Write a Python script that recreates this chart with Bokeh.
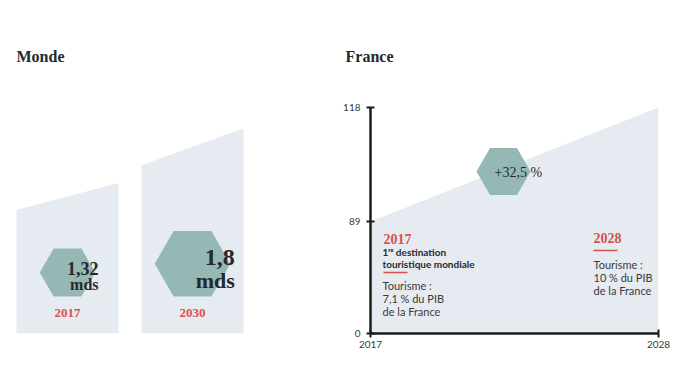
from bokeh.plotting import figure
from bokeh.layouts import row
from bokeh.models import Range1d, FixedTicker
from bokeh.core.properties import value
from bokeh.embed import file_html
from bokeh.resources import INLINE

# ---------------- data ----------------
monde_years = ["2017", "2030"]
monde_values = [1.32, 1.8]            # milliards de touristes internationaux
monde_labels = ["1,32", "1,8"]
monde_unit = "mds"

france_years = [2017, 2028]
france_values = [89, 118]             # millions de touristes
france_growth = "+32,5 %"
france_note_2017 = ["1ʳᵉ destination", "touristique mondiale"]
france_gdp_2017 = ["Tourisme :", "7,1 % du PIB", "de la France"]
france_gdp_2028 = ["Tourisme :", "10 % du PIB", "de la France"]

# ---------------- styles ----------------
BAR = "#e6ebf1"
HEX = "#95b8b5"
RED = "#d8524c"
INK = "#25292c"
GREY = "#3a3a3a"
SERIF = "Liberation Serif"
SANS = "Lato"

H = 368
BT, BB = 99, 35            # shared top / bottom borders (row aligns frames)
FH = H - BT - BB           # frame height


def style_title(p, text, offset):
    p.title.text = text
    p.title.align = "left"
    p.title.offset = offset
    p.title.standoff = 70
    p.title.text_font = SERIF
    p.title.text_font_style = "bold"
    p.title.text_font_size = "16px"
    p.title.text_color = INK


# ================= Monde =================
W1 = 335
PX1 = 125.0      # px per bar slot
PY1 = 114.0      # px per milliard
x0 = -67 / PX1
p1 = figure(width=W1, height=H, x_range=Range1d(x0, x0 + W1 / PX1),
            y_range=Range1d(0, FH / PY1), output_backend="svg",
            toolbar_location=None, min_border_left=0, min_border_right=0,
            min_border_top=BT, min_border_bottom=BB)
p1.axis.visible = False
p1.grid.visible = False
p1.outline_line_color = None
style_title(p1, "Monde", 16)

idx = list(range(len(monde_values)))
half = 0.408
slope = 0.82
xs = [[i - half, i + half, i + half, i - half] for i in idx]
ys = [[0, 0, v, v * slope] for v in monde_values]
p1.patches(xs, ys, fill_color=BAR, line_color=None)

sizes = [v * 42 for v in monde_values]
hy = [(37 + s * 0.866 / 2) / PY1 for s in sizes]
p1.scatter(x=idx, y=hy, size=sizes, marker="hex", fill_color=HEX, line_color=None)

p1.text(x=idx, y=hy, text=monde_labels,
        x_offset=[s * 0.56 for s in sizes], y_offset=[-0.08 * s for s in sizes],
        text_align="right", text_baseline="middle", text_font=value(SERIF),
        text_font_style="bold", text_font_size=[f"{v * 13.5:.0f}px" for v in monde_values],
        text_color=INK)
p1.text(x=idx, y=hy, text=[monde_unit] * len(idx),
        x_offset=[s * 0.56 for s in sizes], y_offset=[0.22 * s for s in sizes],
        text_align="right", text_baseline="middle", text_font=value(SERIF),
        text_font_style="bold", text_font_size=[f"{v * 12:.0f}px" for v in monde_values],
        text_color=INK)
p1.text(x=idx, y=[0] * len(idx), text=monde_years, y_offset=-21,
        text_align="center", text_baseline="middle", text_font=value(SERIF),
        text_font_style="bold", text_font_size="13px", text_color=RED)

# ================= France =================
BL, BR = 35, 18
W2 = 676 - W1
PX2 = (W2 - BL - BR) / (france_years[1] - france_years[0])
PY2 = 114 / (france_values[1] - france_values[0])
floor = france_values[0] - 112 / PY2
ytop = floor + FH / PY2

p2 = figure(width=W2, height=H, x_range=Range1d(france_years[0], france_years[1]),
            y_range=Range1d(floor, ytop), output_backend="svg", toolbar_location=None,
            min_border_left=BL, min_border_right=BR, min_border_top=BT,
            min_border_bottom=BB)
p2.grid.visible = False
p2.outline_line_color = None
style_title(p2, "France", -25)

p2.varea(x=france_years, y1=[floor] * 2, y2=france_values, fill_color=BAR)

for ax in (p2.xaxis[0], p2.yaxis[0]):
    ax.axis_line_width = 2.5
    ax.axis_line_color = "#1c1c1c"
    ax.major_tick_line_color = "#1c1c1c"
    ax.major_tick_line_width = 2
    ax.major_tick_in = 4
    ax.major_tick_out = 4
    ax.minor_tick_line_color = None
    ax.major_label_text_font = SANS
    ax.major_label_text_font_size = "10px"
    ax.major_label_text_color = GREY
p2.yaxis.ticker = FixedTicker(ticks=[floor] + france_values)
p2.yaxis.major_label_overrides = {floor: "0"}
p2.yaxis.bounds = (floor, france_values[1])
p2.yaxis.major_label_standoff = 6
p2.xaxis.ticker = FixedTicker(ticks=france_years)
p2.xaxis.bounds = (france_years[0], france_years[1])
p2.xaxis.major_label_standoff = 3

# growth hexagon
mx = sum(france_years) / 2 - 11 / PX2
my = sum(france_values) / 2 - 7 / PY2
p2.scatter(x=[mx], y=[my], size=54, marker="hex", fill_color=HEX, line_color=None)
p2.text(x=[mx], y=[my], text=[france_growth], x_offset=-9, y_offset=1,
        text_align="left", text_baseline="middle", text_font=value(SERIF),
        text_font_size="14px", text_color=INK)

# 2017 block
ax0, ay0 = france_years[0], france_values[0]
p2.text(x=[ax0], y=[ay0], text=["2017"], x_offset=13, y_offset=17,
        text_baseline="middle", text_font=value(SERIF), text_font_style="bold",
        text_font_size="14px", text_color=RED)
p2.text(x=[ax0] * 2, y=[ay0] * 2, text=france_note_2017, x_offset=12, y_offset=[30, 42],
        text_baseline="middle", text_font=value(SANS), text_font_style="bold",
        text_font_size="10px", text_color=INK)
p2.scatter(x=[ax0 + 25 / PX2], y=[ay0 - 51 / PY2], marker="dash", size=24,
           line_color=RED, line_width=1.5)
p2.text(x=[ax0] * 3, y=[ay0] * 3, text=france_gdp_2017, x_offset=12, y_offset=[64, 77, 90],
        text_baseline="middle", text_font=value(SANS), text_font_size="11px",
        text_color=GREY)

# 2028 block
bx0, by0 = france_years[1], france_values[0]
p2.text(x=[bx0], y=[by0], text=["2028"], x_offset=-65, y_offset=16,
        text_baseline="middle", text_font=value(SERIF), text_font_style="bold",
        text_font_size="14px", text_color=RED)
p2.scatter(x=[bx0 - 53 / PX2], y=[by0 - 29 / PY2], marker="dash", size=24,
           line_color=RED, line_width=1.5)
p2.text(x=[bx0] * 3, y=[by0] * 3, text=france_gdp_2028, x_offset=-65, y_offset=[43, 56, 69],
        text_baseline="middle", text_font=value(SANS), text_font_size="11px",
        text_color=GREY)

layout = row(p1, p2)
open("out.html", "w").write(file_html(layout, INLINE))
